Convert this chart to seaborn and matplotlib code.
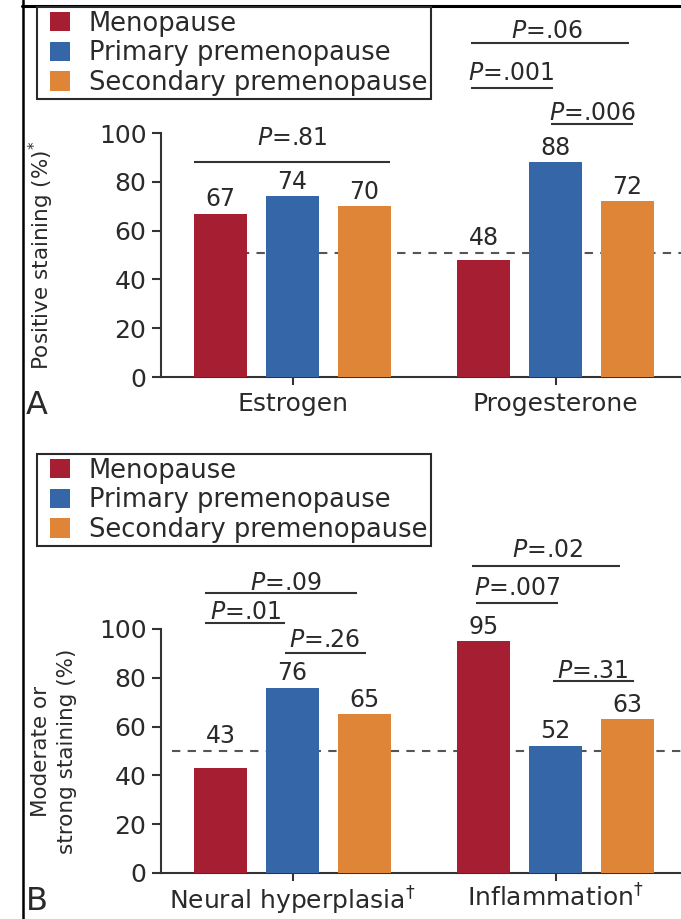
import matplotlib
matplotlib.use("Agg")
import matplotlib.pyplot as plt
import seaborn as sns
import pandas as pd
from matplotlib.lines import Line2D
from matplotlib.patches import Rectangle
from matplotlib.legend_handler import HandlerPatch

sns.set_theme(style="ticks")
plt.rcParams["font.family"] = ["DejaVu Sans"]
plt.rcParams["mathtext.fontset"] = "dejavusans"

# ---- data -------------------------------------------------------------
groups = ["Menopause", "Primary premenopause", "Secondary premenopause"]
group_colors = ["#A61E32", "#3566A8", "#DF8538"]

receptors = ["Estrogen", "Progesterone"]
menopause_a = [67, 48]
primary_a = [74, 88]
secondary_a = [70, 72]
reference_a = 51

findings = [r"Neural hyperplasia$^{\dagger}$", r"Inflammation$^{\dagger}$"]
menopause_b = [43, 95]
primary_b = [76, 52]
secondary_b = [65, 63]
reference_b = 50

pvals_a = ["=.81", "=.06", "=.001", "=.006"]
pvals_b = ["=.09", "=.01", "=.26", "=.02", "=.007", "=.31"]

# bracket geometry: (x start, x end, line height, text x, text baseline)
brackets_a = [(-0.373, 0.369, 88.1, 0.0, 95.1),
              (0.677, 1.278, 136.9, 0.968, 138.9),
              (0.677, 0.989, 118.4, 0.833, 121.7),
              (0.981, 1.293, 103.7, 1.141, 105.3)]
brackets_b = [(-0.331, 0.247, 114.8, -0.023, 116.0),
              (-0.331, -0.027, 102.5, -0.179, 104.1),
              (-0.030, 0.281, 90.2, 0.122, 92.6),
              (0.684, 1.247, 125.8, 0.970, 129.5),
              (0.696, 1.008, 110.7, 0.856, 113.9),
              (0.989, 1.297, 78.7, 1.141, 79.9)]

W, H = 681, 919
fig = plt.figure(figsize=(W / 100, H / 100), dpi=100)
fig.patch.set_facecolor("white")

DARK = "#2a2a2a"
AXIS = "#333333"
SWATCH_INSET = 6.5  # points of blank space to the left of each legend swatch


def swatch(legend, orig_handle, xdescent, ydescent, width, height, fontsize):
    return Rectangle((-xdescent + SWATCH_INSET, -ydescent),
                     width - SWATCH_INSET, height)


def make_frame(cats, series):
    rows = []
    for g, vals in zip(groups, series):
        for c, v in zip(cats, vals):
            rows.append({"category": c, "group": g, "value": v})
    return pd.DataFrame(rows)


def panel(bottom_px, cats, series, ref, dash_start, pvals, brackets,
          legend_top_px, ylabel, ylabel_x, letter, xpad):
    ax = fig.add_axes([161 / W, 1 - bottom_px / H, 526 / W, 244 / H])
    df = make_frame(cats, series)
    sns.barplot(data=df, x="category", y="value", hue="group",
                hue_order=groups, order=cats,
                palette=dict(zip(groups, group_colors)), saturation=1,
                width=0.82, gap=0.27, linewidth=0, ax=ax, zorder=3)
    handles, labels = ax.get_legend_handles_labels()
    if ax.get_legend() is not None:
        ax.get_legend().remove()

    ax.set_xlim(-0.5, 1.5)
    ax.set_ylim(0, 100)
    ax.set_yticks([0, 20, 40, 60, 80, 100])
    ax.set_xlabel("")
    ax.set_ylabel("")
    for side in ("top", "right"):
        ax.spines[side].set_visible(False)
    for side in ("left", "bottom"):
        ax.spines[side].set_color(AXIS)
        ax.spines[side].set_linewidth(1.5)
    ax.tick_params(axis="y", length=6.5, width=1.5, color=AXIS,
                   labelsize=18, pad=4, labelcolor=DARK)
    ax.tick_params(axis="x", length=6, width=1.5, color=AXIS,
                   labelsize=18, pad=xpad, labelcolor=DARK)

    # dashed reference level behind the bars
    ax.plot([dash_start, 1.5], [ref, ref], ls=(0, (4, 3.5)), lw=1.5,
            color="#555555", zorder=1, clip_on=False)

    # value labels above each bar
    for cont, vals in zip(ax.containers, series):
        for bar, v in zip(cont, vals):
            xc = bar.get_x() + bar.get_width() / 2
            ax.annotate(f"{v}", (xc, max(v, ref)), xytext=(0, 5.5),
                        textcoords="offset points", ha="center",
                        va="baseline", fontsize=17, color=DARK,
                        annotation_clip=False)

    # significance lines with P values
    for p, (x0, x1, yl, xt, yt) in zip(pvals, brackets):
        ax.plot([x0, x1], [yl, yl], color=AXIS, lw=1.5, clip_on=False,
                solid_capstyle="butt")
        ax.text(xt, yt, r"$P$" + p, ha="center", va="baseline",
                fontsize=17, color=DARK, clip_on=False)

    leg = fig.legend(handles, labels, loc="upper left",
                     bbox_to_anchor=(37 / W, 1 - legend_top_px / H),
                     bbox_transform=fig.transFigure, borderaxespad=0,
                     frameon=True, fancybox=False, shadow=False,
                     framealpha=1, fontsize=18.5, handlelength=1.16,
                     handleheight=0.78, handletextpad=0.72,
                     labelspacing=0.14, borderpad=0.14,
                     handler_map={Rectangle: HandlerPatch(patch_func=swatch)})
    leg.get_frame().set_edgecolor(DARK)
    leg.get_frame().set_linewidth(1.5)
    for t in leg.get_texts():
        t.set_color(DARK)

    fig.text(ylabel_x / W, 1 - (bottom_px - 122) / H, ylabel, rotation=90,
             ha="center", va="center", multialignment="center",
             linespacing=1.35, fontsize=15.5, color=DARK)
    fig.text(26 / W, 1 - (bottom_px + 37) / H, letter, ha="left",
             va="baseline", fontsize=23, color=DARK)
    return ax


panel(377, receptors, [menopause_a, primary_a, secondary_a], reference_a,
      -0.373, pvals_a, brackets_a, 7,
      r"Positive staining (%)$^{*}$", 41, "A", 5)
panel(873, findings, [menopause_b, primary_b, secondary_b], reference_b,
      -0.46, pvals_b, brackets_b, 454,
      "Moderate or\nstrong staining (%)", 54, "B", 2.5)

# outer frame lines along the top and left edges
fig.add_artist(Line2D([22.5 / W, 22.5 / W], [0, 1], transform=fig.transFigure,
                      color="black", lw=1.8))
fig.add_artist(Line2D([22 / W, 1], [1 - 5.5 / H, 1 - 5.5 / H],
                      transform=fig.transFigure, color="black", lw=2.2))

fig.savefig("out.png", dpi=100)
